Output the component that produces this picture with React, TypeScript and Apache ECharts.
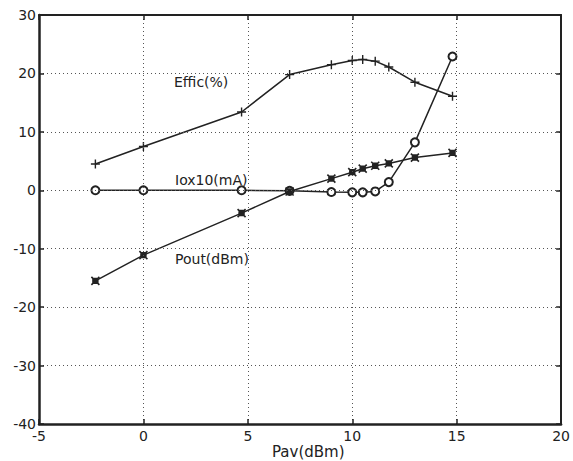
import React, { useEffect, useRef } from "react";
import * as echarts from "echarts";

// Available input power (dBm)
const pav = [-2.3, 0, 4.7, 7, 9, 10, 10.5, 11.1, 11.75, 13, 14.8];
// Drain efficiency (%)
const effic = [4.5, 7.5, 13.4, 19.8, 21.5, 22.2, 22.4, 22.1, 21.1, 18.5, 16.1];
// Drain current x10 (mA)
const iox10 = [0, 0, 0, -0.1, -0.3, -0.35, -0.35, -0.2, 1.4, 8.2, 22.9];
// Output power (dBm)
const pout = [-15.5, -11.1, -3.9, -0.2, 2.0, 3.1, 3.7, 4.2, 4.6, 5.6, 6.4];

const xTicks = { min: -5, max: 20, interval: 5 };
const yTicks = { min: -40, max: 30, interval: 10 };

const INK = "#222222";
const FONT = "DejaVu Sans";

const pairs = (ys: number[]) => pav.map((x, i) => [x, ys[i]]);

export default function App() {
  const ref = useRef<HTMLDivElement>(null);

  useEffect(() => {
    if (!ref.current) return;
    const chart = echarts.init(ref.current, undefined, { renderer: "svg" });

    const grid = { left: 39, top: 15, right: 10, bottom: 37 };
    const dotted = { color: "#555", width: 1, type: [1, 3] as any };

    const baseX = {
      type: "value" as const,
      min: xTicks.min,
      max: xTicks.max,
      interval: xTicks.interval,
      axisTick: { show: true, inside: true, length: 5, lineStyle: { color: INK, width: 1.5 } },
      z: 5,
    };
    const baseY = {
      type: "value" as const,
      min: yTicks.min,
      max: yTicks.max,
      interval: yTicks.interval,
      axisTick: { show: true, inside: true, length: 5, lineStyle: { color: INK, width: 1.5 } },
      z: 5,
    };

    const lineStyle = { color: INK, width: 1.5 };

    chart.setOption({
      animation: false,
      backgroundColor: "#ffffff",
      grid,
      xAxis: [
        {
          ...baseX,
          position: "bottom",
          axisLine: { show: true, onZero: false, lineStyle: { color: INK, width: 2.5 } },
          axisLabel: { color: INK, fontFamily: FONT, fontSize: 14, margin: 5 },
          splitLine: { show: true, lineStyle: dotted },
        },
        {
          ...baseX,
          position: "top",
          axisLine: { show: true, onZero: false, lineStyle: { color: INK, width: 2 } },
          axisLabel: { show: false },
          splitLine: { show: false },
        },
      ],
      yAxis: [
        {
          ...baseY,
          position: "left",
          axisLine: { show: true, onZero: false, lineStyle: { color: INK, width: 2.5 } },
          axisLabel: { color: INK, fontFamily: FONT, fontSize: 14, margin: 3 },
          splitLine: { show: true, lineStyle: dotted },
        },
        {
          ...baseY,
          position: "right",
          axisLine: { show: true, onZero: false, lineStyle: { color: INK, width: 2 } },
          axisLabel: { show: false },
          splitLine: { show: false },
        },
      ],
      series: [
        {
          name: "Effic(%)",
          type: "line",
          data: pairs(effic),
          symbol: "path://M5,0L5,10M0,5L10,5",
          symbolSize: 9,
          itemStyle: { color: INK, borderColor: INK, borderWidth: 1.4 },
          lineStyle,
          z: 3,
        },
        {
          name: "Iox10(mA)",
          type: "line",
          data: pairs(iox10),
          symbol: "emptyCircle",
          symbolSize: 8,
          itemStyle: { color: INK, borderColor: INK, borderWidth: 1.4 },
          lineStyle,
          z: 3,
        },
        {
          name: "Pout(dBm)",
          type: "line",
          data: pairs(pout),
          symbol: "path://M0,0L10,10M0,10L10,0M2,2L8,2L8,8L2,8Z",
          symbolSize: 8,
          itemStyle: { color: INK, borderColor: INK, borderWidth: 1.6 },
          lineStyle,
          z: 4,
        },
      ],
      graphic: [
        {
          type: "text",
          left: 174,
          top: 75,
          style: { text: "Effic(%)", fill: INK, font: `14px '${FONT}'` },
        },
        {
          type: "text",
          left: 175,
          top: 173,
          style: { text: "Iox10(mA)", fill: INK, font: `14px '${FONT}'` },
        },
        {
          type: "text",
          left: 175,
          top: 252,
          style: { text: "Pout(dBm)", fill: INK, font: `14px '${FONT}'` },
        },
        {
          type: "text",
          left: 272,
          top: 444,
          style: { text: "Pav(dBm)", fill: INK, font: `15px '${FONT}'` },
        },
      ],
    });

    return () => chart.dispose();
  }, []);

  return (
    <div
      ref={ref}
      style={{ position: "fixed", left: 0, top: 0, width: 573, height: 461 }}
    />
  );
}
